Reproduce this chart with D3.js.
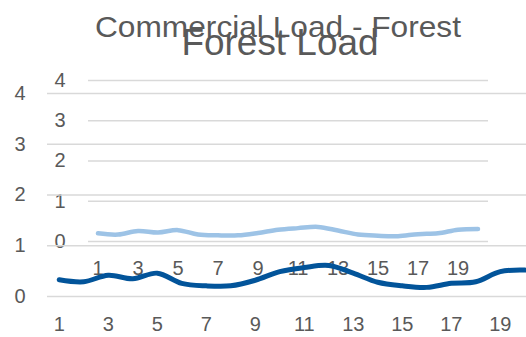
<!DOCTYPE html>
<html>
<head>
<meta charset="utf-8">
<script src="https://cdn.jsdelivr.net/npm/d3@7"></script>
<style>
  html, body { margin: 0; padding: 0; background: #ffffff; overflow: hidden; }
  svg { display: block; font-family: "Liberation Sans", Arial, sans-serif; }
</style>
</head>
<body>
<svg id="chart" width="526" height="337"></svg>
<script>
// Hour categories shared by both panels
const categories = d3.range(1, 21);
const xTickLabels = [1, 3, 5, 7, 9, 11, 13, 15, 17, 19];
const yTicks = [0, 1, 2, 3, 4];

// Commercial load (large panel)
const commercialLoad = [0.32, 0.28, 0.41, 0.34, 0.45, 0.25, 0.20, 0.20, 0.31, 0.48,
                        0.56, 0.60, 0.45, 0.27, 0.20, 0.17, 0.25, 0.28, 0.48, 0.51];
// Forest load (inset panel)
const forestLoad = [0.19, 0.16, 0.25, 0.21, 0.27, 0.16, 0.14, 0.14, 0.20, 0.28,
                    0.32, 0.35, 0.26, 0.16, 0.13, 0.12, 0.17, 0.19, 0.28, 0.30];

const svg = d3.select("#chart");
const textColor = "#595959";
const gridColor = "#d9d9d9";

function drawPanel(g, cfg) {
  const x = d3.scaleBand().domain(categories).range([cfg.left, cfg.right]);
  const y = d3.scaleLinear().domain([0, 4]).range([cfg.bottom, cfg.top]);

  // horizontal gridlines
  const yAxis = d3.axisLeft(y).tickValues(yTicks).tickSize(-(cfg.right - cfg.left)).tickFormat(d3.format("d")).tickPadding(0);
  const ya = g.append("g").attr("transform", `translate(${cfg.left},0)`).call(yAxis);
  ya.select(".domain").remove();
  ya.selectAll(".tick line").attr("stroke", gridColor).attr("stroke-width", 1.3);
  ya.selectAll(".tick text").attr("fill", textColor).attr("font-size", cfg.font)
    .attr("text-anchor", "middle").attr("x", cfg.yLabelX - cfg.left);

  // category labels
  const xAxis = d3.axisBottom(x).tickValues(xTickLabels).tickSize(0).tickPadding(cfg.xPad);
  const xa = g.append("g").attr("transform", `translate(0,${cfg.bottom})`).call(xAxis);
  xa.select(".domain").remove();
  xa.selectAll(".tick text").attr("fill", textColor).attr("font-size", cfg.font);

  // title
  g.append("text")
    .attr("x", cfg.titleX).attr("y", cfg.titleY)
    .attr("text-anchor", "middle")
    .attr("fill", textColor)
    .attr("font-size", cfg.titleSize)
    .attr("textLength", cfg.titleWidth)
    .attr("lengthAdjust", "spacingAndGlyphs")
    .text(cfg.title);

  // smoothed series line
  const line = d3.line()
    .x((d, i) => x(categories[i]) + x.bandwidth() / 2)
    .y(d => y(d))
    .curve(d3.curveCatmullRom.alpha(0.5));
  g.append("path")
    .datum(cfg.values)
    .attr("fill", "none")
    .attr("stroke", cfg.color)
    .attr("stroke-width", cfg.lineWidth)
    .attr("stroke-linecap", "round")
    .attr("stroke-linejoin", "round")
    .attr("d", line);
}

// inset panel: Forest Load
drawPanel(svg.append("g"), {
  left: 88, right: 488, top: 80, bottom: 241,
  values: forestLoad, color: "#9dc3e6", lineWidth: 4.5,
  title: "Forest Load", titleX: 280, titleY: 55, titleSize: 36, titleWidth: 197,
  font: 20, yLabelX: 60, xPad: 20
});

// main panel: Commercial Load - Forest
drawPanel(svg.append("g"), {
  left: 47, right: 537, top: 93, bottom: 296,
  values: commercialLoad, color: "#02549a", lineWidth: 5,
  title: "Commercial Load - Forest", titleX: 278, titleY: 37, titleSize: 30, titleWidth: 366,
  font: 20, yLabelX: 20, xPad: 21
});
</script>
</body>
</html>
